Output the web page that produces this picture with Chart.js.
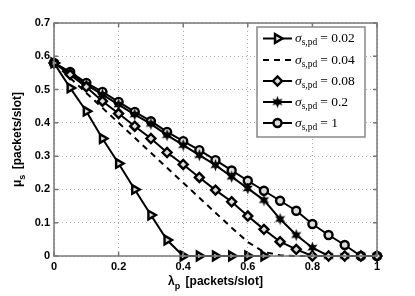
<!DOCTYPE html>
<html>
<head>
<meta charset="UTF-8">
<title>mu_s vs lambda_p</title>
<script src="https://cdn.jsdelivr.net/npm/chart.js"></script>
<style>
  html, body { margin: 0; padding: 0; background: #fff; }
  #wrap { width: 415px; height: 296px; }
</style>
</head>
<body>
<div id="wrap"><canvas id="muChart"></canvas></div>
<script>
// arrival rate lambda_p (x axis)
const lambdaP = [0, 0.05, 0.1, 0.15, 0.2, 0.25, 0.3, 0.35, 0.4, 0.45, 0.5,
                 0.55, 0.6, 0.65, 0.7, 0.75, 0.8, 0.85, 0.9, 0.95, 1];

// mu_s for each sigma_s,pd
const mu002 = [0.58, 0.505, 0.435, 0.353, 0.278, 0.2, 0.123, 0.048, 0, 0, 0,
               0, 0, 0, null, null, null, null, null, null, null];
const mu004 = [0.58, 0.535, 0.49, 0.445, 0.40, 0.355, 0.31, 0.265, 0.22, 0.175, 0.13,
               0.085, 0.042, 0.012, 0.002, 0, 0, null, null, null, null];
const mu008 = [0.58, 0.545, 0.508, 0.465, 0.428, 0.39, 0.353, 0.311, 0.275, 0.236, 0.198,
               0.163, 0.12, 0.08, 0.043, 0.02, 0, 0, 0, 0, 0];
const mu02  = [0.58, 0.55, 0.515, 0.485, 0.455, 0.425, 0.397, 0.363, 0.333, 0.303, 0.273,
               0.238, 0.203, 0.168, 0.111, 0.063, 0.025, 0, 0, 0, 0];
const mu1   = [0.58, 0.553, 0.52, 0.493, 0.463, 0.433, 0.405, 0.373, 0.345, 0.318, 0.288,
               0.257, 0.226, 0.196, 0.166, 0.136, 0.096, 0.063, 0.033, 0, 0];

const sigmaLabels = ['0.02', '0.04', '0.08', '0.2', '1'];
const xTicks = [0, 0.2, 0.4, 0.6, 0.8, 1];
const yTicks = [0, 0.1, 0.2, 0.3, 0.4, 0.5, 0.6, 0.7];

// six-point star marker
function makeStar() {
    const c = document.createElement('canvas');
    c.width = c.height = 13;
    const g = c.getContext('2d');
    g.translate(6.5, 6.5);
    g.beginPath();
    for (let i = 0; i < 12; i++) {
        const r = i % 2 ? 2.8 : 6;
        const a = -Math.PI / 2 + i * Math.PI / 6;
        g.lineTo(r * Math.cos(a), r * Math.sin(a));
    }
    g.closePath();
    g.fillStyle = '#000';
    g.fill();
    return c;
}
const starImg = makeStar();

function toPoints(ys) {
    const pts = [];
    ys.forEach((y, i) => { if (y !== null) pts.push({ x: lambdaP[i], y: y }); });
    return pts;
}

function series(ys, style, extra) {
    return Object.assign({
        data: toPoints(ys),
        borderColor: '#000',
        backgroundColor: '#fff',
        borderWidth: 2,
        pointStyle: style,
        pointRadius: 4,
        pointBorderWidth: 2.4,
        pointBorderColor: '#000',
        pointBackgroundColor: '#ddd',
        tension: 0,
        clip: false
    }, extra || {});
}

const datasets = [
    series(mu002, 'triangle', { pointRotation: 90, pointRadius: 5 }),
    series(mu004, false, { borderDash: [6, 5], pointRadius: 0 }),
    series(mu008, 'rectRot', { pointRadius: 4.5 }),
    series(mu02, starImg, {}),
    series(mu1, 'circle', { pointRadius: 4 })
];

const axisFont = { family: '"Liberation Sans", Arial, sans-serif', size: 11, weight: 'bold' };

// frame, inward ticks, axis titles with subscripts, legend
const decorations = {
    id: 'decorations',
    afterDraw(chart) {
        const ctx = chart.ctx;
        const a = chart.chartArea;
        const xs = chart.scales.x, ys = chart.scales.y;
        ctx.save();

        // frame
        ctx.strokeStyle = '#777';
        ctx.lineWidth = 1.5;
        ctx.strokeRect(a.left, a.top, a.right - a.left, a.bottom - a.top);
        ctx.beginPath();
        xTicks.forEach(v => {
            const px = xs.getPixelForValue(v);
            ctx.moveTo(px, a.bottom); ctx.lineTo(px, a.bottom - 4);
            ctx.moveTo(px, a.top); ctx.lineTo(px, a.top + 4);
        });
        yTicks.forEach(v => {
            const py = ys.getPixelForValue(v);
            ctx.moveTo(a.left, py); ctx.lineTo(a.left + 4, py);
            ctx.moveTo(a.right, py); ctx.lineTo(a.right - 4, py);
        });
        ctx.stroke();

        // axis titles: lambda_p / mu_s [packets/slot]
        ctx.fillStyle = '#000';
        ctx.textBaseline = 'alphabetic';
        const big = 'bold 12px "Liberation Sans", Arial, sans-serif';
        const small = 'bold 9px "Liberation Sans", Arial, sans-serif';
        function drawSub(x, y, main, sub, rest) {
            ctx.font = big;
            ctx.fillText(main, x, y);
            let w = ctx.measureText(main).width;
            ctx.font = small;
            ctx.fillText(sub, x + w, y + 4);
            w += ctx.measureText(sub).width + 2;
            ctx.font = big;
            ctx.fillText(rest, x + w, y);
        }
        function subWidth(main, sub, rest) {
            ctx.font = big; let w = ctx.measureText(main).width + ctx.measureText(rest).width;
            ctx.font = small; w += ctx.measureText(sub).width + 2;
            return w;
        }
        const xw = subWidth('\u03bb', 'p', ' [packets/slot]');
        drawSub((a.left + a.right) / 2 - xw / 2, 285, '\u03bb', 'p', ' [packets/slot]');

        const yw = subWidth('\u03bc', 's', ' [packets/slot]');
        ctx.save();
        ctx.translate(21, (a.top + a.bottom) / 2);
        ctx.rotate(-Math.PI / 2);
        drawSub(-yw / 2, 0, '\u03bc', 's', ' [packets/slot]');
        ctx.restore();

        // legend
        const bx = 257, by = 27, bw = 108, bh = 110;
        ctx.fillStyle = '#fff';
        ctx.fillRect(bx, by, bw, bh);
        ctx.strokeStyle = '#888';
        ctx.lineWidth = 1.5;
        ctx.strokeRect(bx, by, bw, bh);
        const rows = [38.5, 60, 81, 102, 123];
        const serif = '"Liberation Serif", "DejaVu Serif", serif';
        sigmaLabels.forEach((lab, i) => {
            const ds = chart.data.datasets[i];
            const y = rows[i];
            ctx.save();
            ctx.strokeStyle = '#000';
            ctx.lineWidth = 2;
            ctx.setLineDash(ds.borderDash || []);
            ctx.beginPath();
            ctx.moveTo(263, y); ctx.lineTo(292, y);
            ctx.stroke();
            ctx.setLineDash([]);
            if (ds.pointStyle) {
                ctx.fillStyle = ds.pointBackgroundColor;
                ctx.strokeStyle = '#000';
                ctx.lineWidth = ds.pointBorderWidth;
                Chart.helpers.drawPoint(ctx, {
                    pointStyle: ds.pointStyle,
                    rotation: ds.pointRotation || 0,
                    radius: ds.pointRadius,
                    borderWidth: ds.pointBorderWidth
                }, 277.5, y);
            }
            ctx.restore();
            ctx.fillStyle = '#000';
            ctx.textBaseline = 'middle';
            let x = 295;
            ctx.font = 'italic 13.5px ' + serif;
            ctx.fillText('\u03c3', x, y);
            x += ctx.measureText('\u03c3').width;
            ctx.font = '9.5px ' + serif;
            ctx.fillText('s,pd', x, y + 4);
            x += ctx.measureText('s,pd').width + 3;
            ctx.font = '13.5px ' + serif;
            ctx.fillText('= ' + lab, x, y);
        });
        ctx.restore();
    }
};

new Chart(document.getElementById('muChart').getContext('2d'), {
    type: 'line',
    data: { datasets: datasets },
    options: {
        responsive: true,
        maintainAspectRatio: false,
        animation: false,
        layout: { padding: { top: 23, right: 38, left: 0, bottom: 0 } },
        plugins: { legend: { display: false }, tooltip: { enabled: false } },
        scales: {
            x: {
                type: 'linear', min: 0, max: 1,
                afterBuildTicks: s => { s.ticks = xTicks.map(v => ({ value: v })); },
                afterFit: s => { s.height = 40; },
                ticks: { color: '#000', font: axisFont, padding: 4,
                         callback: v => String(+v.toFixed(1)), maxRotation: 0 },
                grid: { color: '#aaa', lineWidth: 1, drawTicks: false },
                border: { display: false, dash: [1, 3] }
            },
            y: {
                type: 'linear', min: 0, max: 0.7,
                afterBuildTicks: s => { s.ticks = yTicks.map(v => ({ value: v })); },
                afterFit: s => { s.width = 54; },
                ticks: { color: '#000', font: axisFont, padding: 4,
                         callback: v => String(+v.toFixed(1)) },
                grid: { color: '#aaa', lineWidth: 1, drawTicks: false },
                border: { display: false, dash: [1, 3] }
            }
        }
    },
    plugins: [decorations]
});
</script>
</body>
</html>
